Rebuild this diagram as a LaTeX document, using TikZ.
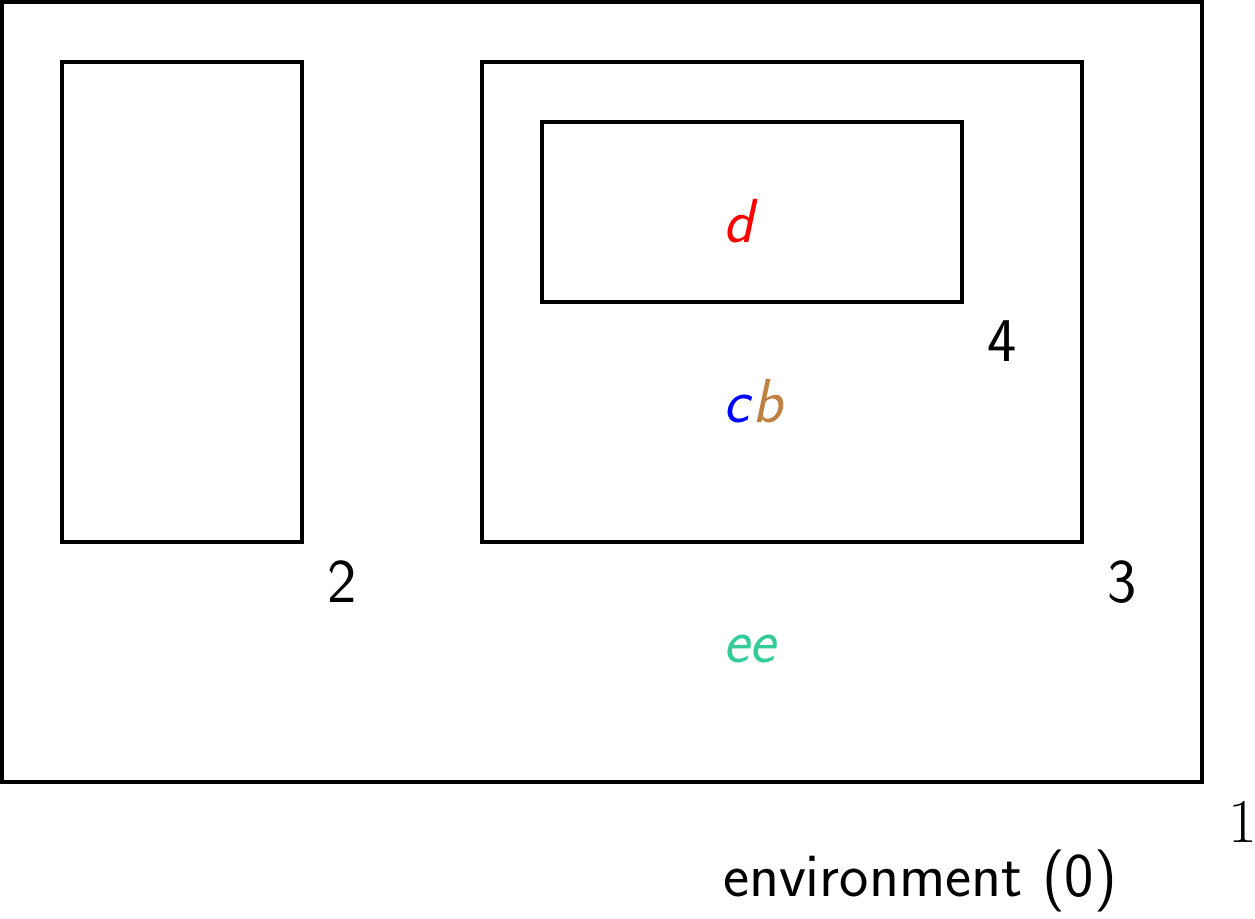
\documentclass[tikz,border=0pt]{standalone}
\definecolor{eegreen}{RGB}{51,204,153}
\definecolor{bbrown}{rgb}{0.75,0.5,0.25}
\tikzset{
  box/.style args={#1x#2}{draw, line width=1pt, inner sep=0pt, outer sep=0pt,
    minimum width=#1cm, minimum height=#2cm},
  lab/.style={anchor=base west, inner sep=0pt, outer sep=0pt,
    font=\fontsize{17.7}{21}\selectfont\sffamily},
  rlab/.style={anchor=base west, inner sep=0pt, outer sep=0pt,
    font=\fontsize{17.7}{21}\selectfont\rmfamily},
}
\begin{document}
\begin{tikzpicture}
\useasboundingbox (0,0) rectangle (12.55,-9.19);
\node[box=12x7.8] (b1) at (6.02,-3.92) {};
\node[box=2.4x4.8] (b2) at (1.82,-3.02) {};
\node[box=6x4.8] (b3) at (7.82,-3.02) {};
\node[box=4.2x1.8] (b4) at (7.52,-2.12) {};
\node[lab] (l2) at (3.27,-6.03) {2};
\node[lab] (l3) at (11.07,-6.03) {3};
\node[lab] (l4) at (9.87,-3.62) {4};
\node[rlab] (l1) at (12.28,-8.43) {1};
\node[lab] (env) at (7.23,-8.97) {environment (0)};
\node[lab, text=red] (d) at (7.23,-2.43) {\itshape d};
\node[lab] (cb) at (7.23,-4.23) {\itshape{\color{blue}c}\kern0.06em{\color{bbrown}b}};
\node[lab, text=eegreen] (ee) at (7.23,-6.63) {\itshape ee};
\end{tikzpicture}
\end{document}
